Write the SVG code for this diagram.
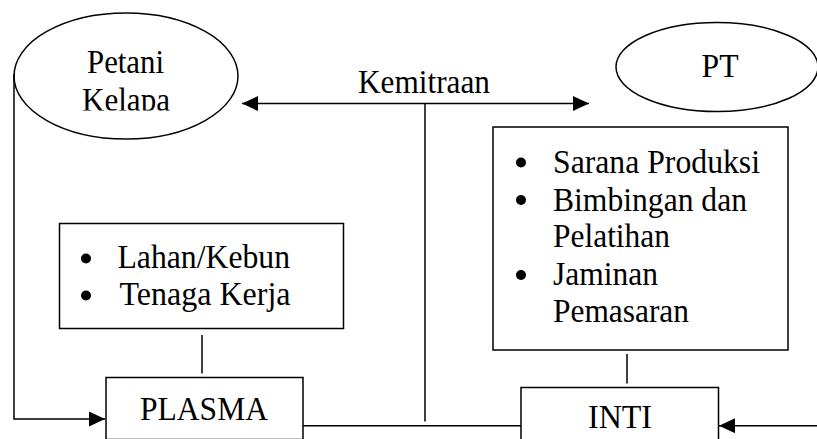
<svg xmlns="http://www.w3.org/2000/svg" width="817" height="439" viewBox="0 0 817 439">
<style>
.s{fill:none;stroke:#000;stroke-width:1.5}
.bx{fill:#fff;stroke:#000;stroke-width:1.5}
.t{font-family:"Liberation Serif","Times New Roman",serif;font-size:33.5px;fill:#000}
.c{text-anchor:middle}
.b{fill:#000}
</style>
<defs>
<marker id="ah" markerUnits="userSpaceOnUse" markerWidth="16" markerHeight="15" refX="16" refY="7.5" orient="auto-start-reverse">
<path d="M0,0 L16,7.5 L0,15 z" fill="#000"/>
</marker>
<clipPath id="clipK"><rect x="0" y="0" width="300" height="110.5"/></clipPath>
</defs>
<rect width="817" height="439" fill="#fff"/>
<g id="connectors">
<path class="s" d="M14,74 V419 H105" marker-end="url(#ah)"/>
<path class="s" d="M242,103.5 H589" marker-start="url(#ah)" marker-end="url(#ah)"/>
<path class="s" d="M425,103.5 V421.5"/>
<path class="s" d="M202,335 V373.5"/>
<path class="s" d="M627,354 V383.5"/>
<path class="s" d="M303,425.7 H521"/>
<path class="s" d="M817,425.7 H719" marker-end="url(#ah)"/>
</g>
<g id="petani">
<ellipse class="s" cx="126" cy="76" rx="112" ry="63"/>
<g clip-path="url(#clipK)">
<text class="t c" x="125.5" y="73" textLength="77" lengthAdjust="spacingAndGlyphs">Petani</text>
<text class="t c" x="126" y="111" textLength="88" lengthAdjust="spacingAndGlyphs">Kelapa</text>
</g>
</g>
<g id="kemitraan-label">
<text class="t" x="358" y="93" textLength="132" lengthAdjust="spacingAndGlyphs">Kemitraan</text>
</g>
<g id="pt">
<ellipse class="s" cx="717" cy="67" rx="101" ry="44.5"/>
<text class="t c" x="720" y="77" textLength="37" lengthAdjust="spacingAndGlyphs">PT</text>
</g>
<g id="inti-resources">
<rect class="bx" x="493" y="127" width="295" height="223"/>
<circle class="b" cx="521" cy="162.5" r="5"/>
<circle class="b" cx="521" cy="200" r="5"/>
<circle class="b" cx="521" cy="275" r="5"/>
<text class="t" x="553" y="172.5" textLength="207" lengthAdjust="spacingAndGlyphs">Sarana Produksi</text>
<text class="t" x="553" y="210.5" textLength="194" lengthAdjust="spacingAndGlyphs">Bimbingan dan</text>
<text class="t" x="553" y="246.5" textLength="117" lengthAdjust="spacingAndGlyphs">Pelatihan</text>
<text class="t" x="553" y="284.5" textLength="105" lengthAdjust="spacingAndGlyphs">Jaminan</text>
<text class="t" x="553" y="321.5" textLength="136" lengthAdjust="spacingAndGlyphs">Pemasaran</text>
</g>
<g id="plasma-resources">
<rect class="bx" x="59.5" y="223.5" width="284" height="105"/>
<circle class="b" cx="86" cy="258.5" r="5"/>
<circle class="b" cx="86" cy="295.5" r="5"/>
<text class="t" x="117.5" y="268" textLength="172.5" lengthAdjust="spacingAndGlyphs">Lahan/Kebun</text>
<text class="t" x="119.5" y="305" textLength="171" lengthAdjust="spacingAndGlyphs">Tenaga Kerja</text>
</g>
<g id="plasma">
<rect class="bx" x="106" y="377.5" width="197" height="62"/>
<text class="t c" x="204" y="419.5" textLength="128" lengthAdjust="spacingAndGlyphs">PLASMA</text>
</g>
<g id="inti">
<rect class="bx" x="521" y="387.5" width="197.5" height="55"/>
<text class="t c" x="620" y="428" textLength="64" lengthAdjust="spacingAndGlyphs">INTI</text>
</g>
</svg>
